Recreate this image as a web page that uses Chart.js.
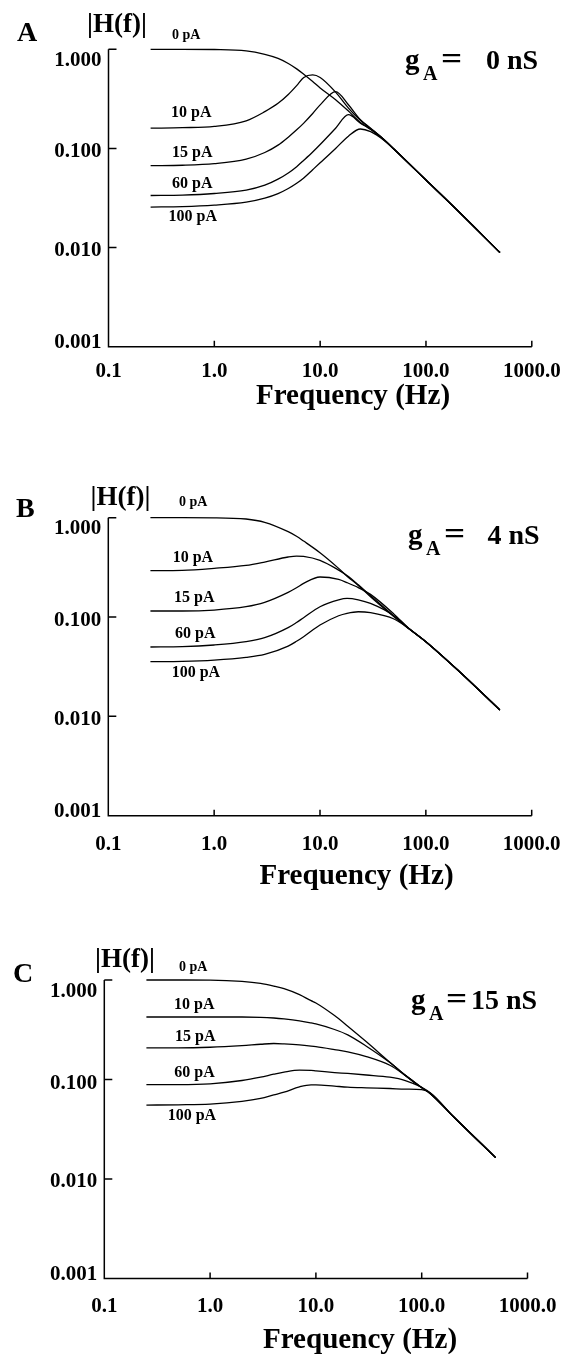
<!DOCTYPE html>
<html>
<head>
<meta charset="utf-8">
<title>|H(f)| vs frequency</title>
<script src="https://cdn.jsdelivr.net/npm/chart.js@4.4.1/dist/chart.umd.min.js"></script>
<style>
  html, body { margin: 0; padding: 0; background: #fff; }
  #wrap { position: relative; width: 569px; height: 1354px; overflow: hidden; }
  #wrap canvas { position: absolute; left: 0; }
</style>
</head>
<body>
<div id="wrap">
  <canvas id="cA" width="569" height="440" style="top:0px"></canvas>
  <canvas id="cB" width="569" height="460" style="top:440px"></canvas>
  <canvas id="cC" width="569" height="454" style="top:900px"></canvas>
</div>
<script>
// ---- data ----
const seriesNames = ['0 pA', '10 pA', '15 pA', '60 pA', '100 pA'];
const xTicks = [0.1, 1, 10, 100, 1000];
const xTickLabels = ['0.1', '1.0', '10.0', '100.0', '1000.0'];
const yTicks = [1, 0.1, 0.01, 0.001];
const yTickLabels = ['1.000', '0.100', '0.010', '0.001'];

// panel A, gA = 0 nS
const freqA = [0.25, 0.5, 1, 2, 3, 4, 5, 6, 7, 8.5, 10, 14, 18.5, 24, 30, 40, 50, 100, 200, 500];
const a0   = [1.0, 1.0, 0.995, 0.965, 0.89, 0.81, 0.72, 0.635, 0.56, 0.473, 0.408, 0.31, 0.238, 0.183, 0.155, 0.122, 0.098, 0.048, 0.0235, 0.0089];
const a10  = [0.16, 0.162, 0.167, 0.19, 0.235, 0.285, 0.35, 0.43, 0.52, 0.552, 0.52, 0.37, 0.255, 0.192, 0.158, 0.123, 0.098, 0.048, 0.0235, 0.0089];
const a15  = [0.067, 0.0677, 0.0703, 0.078, 0.091, 0.108, 0.13, 0.154, 0.18, 0.225, 0.275, 0.375, 0.276, 0.195, 0.16, 0.123, 0.098, 0.048, 0.0235, 0.0089];
const a60  = [0.0335, 0.0338, 0.0351, 0.038, 0.0426, 0.049, 0.0566, 0.0655, 0.0759, 0.092, 0.1096, 0.16, 0.219, 0.18, 0.157, 0.123, 0.098, 0.048, 0.0235, 0.0089];
const a100 = [0.0256, 0.0259, 0.0268, 0.0287, 0.0315, 0.035, 0.0394, 0.0445, 0.0504, 0.061, 0.0716, 0.1, 0.133, 0.157, 0.1475, 0.121, 0.098, 0.048, 0.0235, 0.0089];

// panel B, gA = 4 nS
const freqB = [0.25, 0.5, 1, 2, 3, 5, 6, 7, 10, 15, 18, 23, 30, 50, 70, 100, 200, 500];
const b0   = [1.0, 1.0, 0.998, 0.97, 0.898, 0.723, 0.65, 0.582, 0.444, 0.309, 0.258, 0.208, 0.16, 0.1007, 0.0757, 0.0565, 0.0293, 0.0116];
const b10  = [0.293, 0.295, 0.309, 0.331, 0.358, 0.402, 0.411, 0.408, 0.372, 0.297, 0.262, 0.211, 0.164, 0.102, 0.0757, 0.0565, 0.0293, 0.0116];
const b15  = [0.115, 0.115, 0.1176, 0.127, 0.1405, 0.177, 0.197, 0.218, 0.253, 0.239, 0.222, 0.198, 0.169, 0.107, 0.0757, 0.0565, 0.0293, 0.0116];
const b60  = [0.0499, 0.0503, 0.0523, 0.0565, 0.0619, 0.0781, 0.088, 0.0985, 0.127, 0.149, 0.154, 0.149, 0.137, 0.103, 0.0757, 0.0565, 0.0293, 0.0116];
const b100 = [0.0355, 0.0358, 0.0369, 0.0393, 0.0421, 0.051, 0.057, 0.0634, 0.0831, 0.103, 0.109, 0.113, 0.1106, 0.0955, 0.0757, 0.0565, 0.0293, 0.0116];

// panel C, gA = 15 nS
const freqC = [0.25, 0.5, 1, 2, 3, 4, 5, 7, 9, 10, 15, 20, 30, 50, 70, 100, 120, 200, 500];
const c0   = [1.0, 1.0, 0.998, 0.97, 0.926, 0.87, 0.819, 0.713, 0.62, 0.588, 0.439, 0.343, 0.239, 0.149, 0.11, 0.0825, 0.0725, 0.0422, 0.0164];
const c10  = [0.425, 0.425, 0.425, 0.425, 0.422, 0.415, 0.406, 0.388, 0.37, 0.362, 0.318, 0.281, 0.216, 0.148, 0.11, 0.0825, 0.0725, 0.0422, 0.0164];
const c15  = [0.208, 0.208, 0.211, 0.219, 0.226, 0.23, 0.228, 0.223, 0.217, 0.214, 0.2, 0.19, 0.17, 0.139, 0.11, 0.083, 0.0725, 0.0422, 0.0164];
const c60  = [0.089, 0.089, 0.0905, 0.0977, 0.1055, 0.113, 0.1185, 0.124, 0.1235, 0.122, 0.1175, 0.115, 0.111, 0.1055, 0.0977, 0.0835, 0.0735, 0.0422, 0.0164];
const c100 = [0.0553, 0.0557, 0.0566, 0.0602, 0.0645, 0.07, 0.0746, 0.0844, 0.0885, 0.0884, 0.0857, 0.0838, 0.0825, 0.0812, 0.08, 0.079, 0.0735, 0.0422, 0.0164];

// ---- layout (page pixels) ----
const SERIF = '"Liberation Serif", "Times New Roman", Times, serif';
const panels = [
  { id: 'cA', top: 0, h: 440, L: 108.5, R: 531.8, T: 49.3, B: 346.7,
    freq: freqA, series: [a0, a10, a15, a60, a100],
    letter: 'A', letterPos: [17, 41], hPos: [87, 32],
    labLeft: [172, 171, 172, 172, 168.5], labBase: [39, 117, 156.5, 188, 221],
    g: { x: 405, y: 68.5, eqX: 441, valX: 486, val: '0 nS' },
    xLabBase: 376.7, titleX: 353, titleBase: 403.5 },
  { id: 'cB', top: 440, h: 460, L: 108.3, R: 531.7, T: 517.7, B: 815.7,
    freq: freqB, series: [b0, b10, b15, b60, b100],
    letter: 'B', letterPos: [16, 516.7], hPos: [90.5, 505],
    labLeft: [179, 172.7, 174, 175, 171.7], labBase: [506, 561.7, 602.3, 638.3, 676.7],
    g: { x: 408, y: 543.5, eqX: 444, valX: 487.5, val: '4 nS' },
    xLabBase: 850, titleX: 356.5, titleBase: 884 },
  { id: 'cC', top: 900, h: 454, L: 104.3, R: 527.5, T: 980, B: 1278.5,
    freq: freqC, series: [c0, c10, c15, c60, c100],
    letter: 'C', letterPos: [13, 981.7], hPos: [95, 966.7],
    labLeft: [179, 174, 175, 174.3, 167.7], labBase: [971, 1008.7, 1041.3, 1077.3, 1119.7],
    g: { x: 411, y: 1008.5, eqX: 446, valX: 471, val: '15 nS' },
    xLabBase: 1311.7, titleX: 360, titleBase: 1347.5 }
];
const yLabDrop = [16.5, 9, 8.3, 1.3];   // label baseline below each y tick

function txt(ctx, s, x, y, size, align, sx) {
  ctx.save();
  ctx.font = 'bold ' + size + 'px ' + SERIF;
  ctx.textAlign = align || 'left';
  ctx.textBaseline = 'alphabetic';
  ctx.fillStyle = '#000';
  ctx.translate(x, y);
  ctx.scale(sx || 1, 1);
  ctx.fillText(s, 0, 0);
  ctx.restore();
}

function makeDecor(p) {
  return {
    id: 'decor' + p.letter,
    afterDraw(chart) {
      const ctx = chart.ctx;
      const xs = chart.scales.x, ys = chart.scales.y;
      const off = p.top;
      const L = xs.left, R = xs.right, T = ys.top, B = ys.bottom;
      ctx.save();
      ctx.strokeStyle = '#000';
      ctx.lineWidth = 1.5;
      ctx.beginPath();
      ctx.moveTo(L, T); ctx.lineTo(L, B); ctx.lineTo(R, B);
      yTicks.forEach(v => {
        if (v === ys.min) return;
        const y = ys.getPixelForValue(v);
        ctx.moveTo(L, y); ctx.lineTo(L + 8, y);
      });
      xTicks.forEach(v => {
        if (v === xs.min) return;
        const x = xs.getPixelForValue(v);
        ctx.moveTo(x, B); ctx.lineTo(x, B - 6);
      });
      ctx.stroke();
      ctx.restore();

      yTicks.forEach((v, i) => {
        txt(ctx, yTickLabels[i], L - 7, ys.getPixelForValue(v) + yLabDrop[i], 21, 'right');
      });
      xTicks.forEach((v, i) => {
        txt(ctx, xTickLabels[i], xs.getPixelForValue(v), p.xLabBase - off, 21, 'center');
      });
      txt(ctx, 'Frequency (Hz)', p.titleX, p.titleBase - off, 30, 'center', 0.97);

      txt(ctx, p.letter, p.letterPos[0], p.letterPos[1] - off, 28, 'left');
      txt(ctx, '|H(f)|', p.hPos[0], p.hPos[1] - off, 27, 'left');

      seriesNames.forEach((n, i) => {
        txt(ctx, n, p.labLeft[i], p.labBase[i] - off, i === 0 ? 14 : 16, 'left');
      });

      // g_A = ... annotation
      txt(ctx, 'g', p.g.x, p.g.y - off, 29, 'left');
      txt(ctx, 'A', p.g.x + 18, p.g.y + 11.5 - off, 20, 'left');
      txt(ctx, '=', p.g.eqX, p.g.y - off, 31, 'left', 1.2);
      txt(ctx, p.g.val, p.g.valX, p.g.y - off, 28, 'left');
    }
  };
}

panels.forEach(p => {
  const datasets = p.series.map((vals, i) => ({
    label: seriesNames[i],
    data: p.freq.map((f, j) => ({ x: f, y: vals[j] })),
    borderColor: '#000',
    borderWidth: 1.3,
    pointRadius: 0,
    fill: false,
    cubicInterpolationMode: 'monotone',
    clip: false
  }));
  new Chart(document.getElementById(p.id), {
    type: 'line',
    data: { datasets },
    options: {
      responsive: false,
      animation: false,
      events: [],
      layout: { padding: { left: p.L, right: 569 - p.R, top: p.T - p.top, bottom: p.h - (p.B - p.top) } },
      plugins: { legend: { display: false }, tooltip: { enabled: false } },
      scales: {
        x: { type: 'logarithmic', min: 0.1, max: 1000, display: false },
        y: { type: 'logarithmic', min: 0.001, max: 1, display: false }
      }
    },
    plugins: [makeDecor(p)]
  });
});
</script>
</body>
</html>
